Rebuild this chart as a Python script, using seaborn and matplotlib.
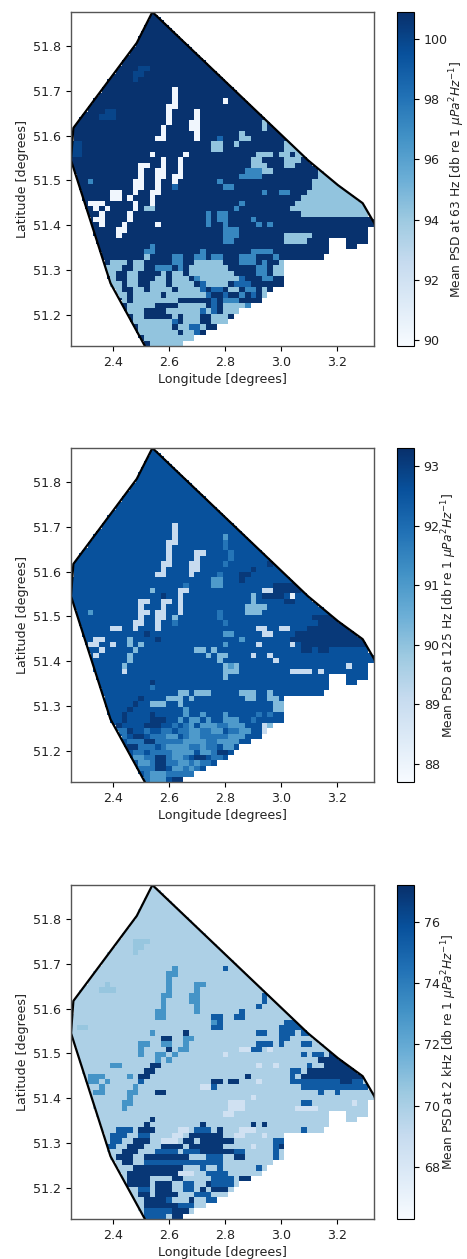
import numpy as np
import pandas as pd
import matplotlib
matplotlib.use("Agg")
import matplotlib.pyplot as plt
from matplotlib.path import Path
import seaborn as sns

LON_MIN, LON_MAX = 2.2485, 3.3336
LAT_MIN, LAT_MAX = 51.13, 51.876
lon_ticks = [2.4, 2.6, 2.8, 3.0, 3.2]
lat_ticks = [51.2, 51.3, 51.4, 51.5, 51.6, 51.7, 51.8]

boundary_lon = [2.54, 3.097, 3.205, 3.293, 3.335, 3.337]
boundary_lat = [51.876, 51.545, 51.489, 51.449, 51.404, 51.40]
west_lon = [2.54, 2.484, 2.257, 2.2485, 2.39, 2.513]
west_lat = [51.876, 51.807, 51.617, 51.545, 51.27, 51.13]

# rows of coverage from row 40 southward (earlier rows are fully covered)
coverage_south = [
    "#" * 53, "#" * 53,
    "#" * 46 + "..." + "####",
    "#" * 46 + "..." + "##",
    "#" * 46, "#" * 45,
    "#" * 38, "#" * 38, "#" * 38, "#" * 38, "#" * 38,
    "#" * 36, "#" * 35, "#" * 34, "#" * 32, "#" * 30,
    "#" * 29, "#" * 28, "#" * 26, "#" * 24, "#" * 22, "#" * 20,
]

# a row ending in ">" continues its last level to the east edge; other rows end in background
values_63 = {"#": 100.8, "o": 100.0, "n": 98.6, "m": 97.2, "l": 94.3, "w": 90.2}
rows_63 = ["#"] * 10 + [
    "############oo#",
    "###########oo#",
    "###########o#",
    "#",
    "##################w#",
    "##################w#",
    "##################w########w#",
    "#################ww#",
    "######oo#########w####w#",
    "#####ooo#########w####w#",
    "#################w###ww###########l#",
    "################w####ww###########l#",
    "################w#####w#######l#",
    "###############ww#####w###n###ll#",
    "oo#######################ll##l########ll#",
    "oo#######################ll###########lll#",
    "oo############w#####w############lll#ll#lll#",
    "################w##w############ll####lll#",
    "############ww##w##w############lll###ll#",
    "############w##ww##w###########mmmll########l>",
    "############w##ww#ww##########mmmm##########l>",
    "###m#######ww##w##w#######m################l>",
    "###########ww##w##n########mm##############l>",
    "#######ww##w##ww##################m##mm###l>",
    "#######ww#w###w##########################l>",
    "###www#####w##w###############m#########l>",
    "####w#w####w#ll##############m#########l>",
    "#####w####w#############m#mm#############l>",
    "####ww####w#############m#mm####m#####",
    "#####w###w#####w########m##m#####m#m#",
    "########ww#################mmm#",
    "########w##################mmm########lllll#",
    "###########################mm#########llll#",
    "##############m#",
    "#############mm########m########mmmm#",
    "#############l####mm##mm#mm###mmm###m#",
    "#######lll#ll#####mm##lllll###mmm#m##l",
    "######lll##ll##mmm#m#lllllll#####mm#ll",
    "######ll##ll####l#ll#llllllll####mm#ll",
    "#######l##ll###ll#lll#mllllllln###mm##ll",
    "#######ll#ll##lll#llll#nllll#nnn#####",
    "#######ll##ll#llll#lllln#nn#ll#mm#l",
    "########ll#lllll#llllllln##n##m#n#lll",
    "#########l#llllllll######n#mmm##",
    "##########lllll####lllll#n#llllm##",
    "##########lll####llllllnln#lllmm",
    "###########ll#####l#lll##lll##",
    "###########llllllln#lll##lll",
    "############llllll#llnnl##",
    "############lllllll#lln#ll",
    "#############lllllllll#n",
    "##############lllllll>",
]

values_125 = {"#": 92.6, "e": 93.1, "d": 91.8, "c": 91.0, "b": 90.2, "a": 89.1, "w": 88.2}
rows_125 = ["#"] * 14 + [
    "##################a#",
    "##################a#",
    "##################a########c#",
    "#################aa########d#",
    "#################a#########d#",
    "#################a####aa####d#",
    "#################a####a#####d#",
    "################aa###aa####d#######e#",
    "################a####aa#########e#",
    "###############aa####a####d###ee#",
    "#########################cc###e#",
    "####################d####cc#########eeeee#",
    "##############b####aa#############aaeeeee#",
    "################e##a############b#eeee#w#",
    "############aa##aa#a############b#####ee#",
    "############a###a##a###########bbbb#",
    "###c########aa#aa##a######d####bbb",
    "############a##aa#b#######d################eee>",
    "###########aa##a##d########d################eee>",
    "#######aa##a###a#################aa##aa###e>",
    "#############e#############cc#####aa####e>",
    "####aa####b####e##############c########e>",
    "###aa##a##b#b##############c#####a#####a#e>",
    "#####a#####b##########bb#b###############ee#ee",
    "####a#####b#############b#bb####a##a####",
    "##########b###############b#########a#",
    "#########b#################bcb###################a#",
    "#########a#################bbb#########aaaa#a#",
    "###########################b",
    "##############e",
    "##############d#################",
    "###################bb#bbb#####bbb##b#",
    "############e####bbb#b#########bb##bb#",
    "###########e##bbb##b################bb#",
    "##########e#########c###############bb#",
    "#########e####e#####c##c###c#####d#d",
    "#########e####eee##c#cc#c##ccc##d",
    "########e####eee##d#dc#cccddccc###ab",
    "########dde##d##dd#ddccddcc#ddcc##a",
    "#########d#ee#dddcc#dccdddddccc",
    "##########dddeedddddccccddcccc",
    "##########eeddd#dccccddcdd#cc",
    "###########dd#ddddcccc#ccdee",
    "###########ccddeedccd#ee#dd",
    "############ccdeeddccdcdd",
    "############dddee#ccdcd#",
    "#############dcccdddddeed",
    "#############dccc#eeeeddd",
    "##############ddddeeee#",
]

values_2k = {"#": 69.9, "b": 70.6, "a": 68.5, "c": 73.0, "d": 75.4, "e": 76.9}
rows_2k = ["#"] * 10 + [
    "###########bbb#",
    "###########bb#",
    "###########b#",
    "#",
    "#",
    "##################c########d#",
    "#################cc#",
    "#################c#",
    "######b##########c####cc#",
    "#####bbb#########c####c#",
    "################cc###cc###########d#",
    "################c####cc###########d#",
    "################c#####c##########d#",
    "###############cc#####c#######d#",
    "###############cc########dd##dd#",
    "#########################cd###########ddd#",
    "#bb######################dd##########ddddd#",
    "##############c#####e############dd##ddd#dd#",
    "################ee##cc###############dd#",
    "############cc##cc##c############ddd#d###dd#",
    "############c####e#cc#########aadd#a##########ee",
    "############c##cc#c########a#############d#dd#eeee#",
    "###############c#c##########################eeeee#",
    "#######cc#####ee#################a##a#####d##eeeee#",
    "#############ee########################dd#eeeeeeeeee",
    "###ccc####c#ee#################e#######d#eeeeeeeeeeeee",
    "###cc#c#####d############ee#ee###a#####dddddddddeedd",
    "#####c#####c###########aad###############dddddddddddd",
    "####cc####cc###ee###########################d##d#",
    "##########c#####################a#",
    "#########cc#################aaa##########dd#######a#",
    "#########c##################aaa#########aaaa#",
    "###########################aa",
    "##############e",
    "#############e#########e########e#e#",
    "########ddd#eee####aa#ddd#e###aaa########d####d#",
    "#######ddd##dd####aa#eeeeee##aa###a###e",
    "#######dd##eee##aaa#ee#eeeeee#######dde",
    "######dd##eee###eeee#eeeeee#####a###de",
    "#########eee###dddd#dddeeeeeedd#####d#",
    "########eee##eeeeeeee###ddd##ee#####d",
    "#########ee##dddddddddddddd",
    "###########eeeeeeeee###d##d######d",
    "##########eeeeeeeeeaaa##dddd",
    "##########eeee####ee#####dddd#ee",
    "##########eeee#eee##dd##edddd",
    "############dd#eee##dd#e#eee#e",
    "############ee#eeee###ddd####dd",
    "#############eeeed###e##ddd",
    "#############eeeeeeddd##e",
    "#############dddddeee#ee",
    "#############dddd#eee#e",
]

titles = ["Mean PSD at 63 Hz", "Mean PSD at 125 Hz", "Mean PSD at 2 kHz"]
limits = [(89.8, 100.9), (87.7, 93.3), (66.3, 77.2)]
cbar_ticks = [[90, 92, 94, 96, 98, 100], [88, 89, 90, 91, 92, 93], [68, 70, 72, 74, 76]]
axes_top_px = [12, 448, 885]
all_rows = [rows_63, rows_125, rows_2k]
all_values = [values_63, values_125, values_2k]

N_COL, N_ROW, FACTOR = 54, 62, 2


def to_grid(rows, values):
    grid = np.full((N_ROW, N_COL), values["#"])
    for j, row in enumerate(rows[:N_ROW]):
        if row.endswith(">"):
            row = row[:-1].ljust(N_COL, row[-2])
        else:
            row = row.ljust(N_COL, "#")
        grid[j] = [values[c] for c in row[:N_COL]]
    for j in range(40, N_ROW):
        cover = coverage_south[j - 40].ljust(N_COL, ".")
        grid[j] = [v if k == "#" else np.nan for v, k in zip(grid[j], cover)]
    return np.repeat(np.repeat(grid, FACTOR, axis=0), FACTOR, axis=1)


nx, ny = N_COL * FACTOR, N_ROW * FACTOR
lon_centre = LON_MIN + (np.arange(nx) + 0.5) * (LON_MAX - LON_MIN) / nx
lat_centre = LAT_MAX - (np.arange(ny) + 0.5) * (LAT_MAX - LAT_MIN) / ny
poly_lon = boundary_lon + [LON_MAX + 0.01, LON_MAX + 0.01, west_lon[-1]] + west_lon[::-1][:-1]
poly_lat = boundary_lat + [51.40, LAT_MIN - 0.01, LAT_MIN - 0.01] + west_lat[::-1][:-1]
gx, gy = np.meshgrid(lon_centre, lat_centre)
inside = Path(np.column_stack([poly_lon, poly_lat])).contains_points(
    np.column_stack([gx.ravel(), gy.ravel()])).reshape(gx.shape)


def xpos(lon):
    return (np.asarray(lon) - LON_MIN) / (LON_MAX - LON_MIN) * nx


def ypos(lat):
    return (LAT_MAX - np.asarray(lat)) / (LAT_MAX - LAT_MIN) * ny


sns.set_style("ticks")
W, H = 467, 1259
fig = plt.figure(figsize=(W / 100, H / 100), dpi=100)
FS = 9.1
for k in range(3):
    top = axes_top_px[k]
    ax = fig.add_axes([71 / W, 1 - (top + 334) / H, 303 / W, 334 / H])
    cax = fig.add_axes([397 / W, 1 - (top + 334) / H, 17 / W, 334 / H])
    df = pd.DataFrame(to_grid(all_rows[k], all_values[k]), index=lat_centre, columns=lon_centre)
    vmin, vmax = limits[k]
    sns.heatmap(df, mask=~inside | df.isna().values, cmap="Blues", vmin=vmin, vmax=vmax, ax=ax,
                cbar_ax=cax, xticklabels=False, yticklabels=False,
                cbar_kws={"label": titles[k] + r" [db re 1 $\mu Pa^2 Hz^{-1}$]"})
    ax.plot(xpos(boundary_lon), ypos(boundary_lat), color="black", lw=1.6)
    ax.plot(xpos(west_lon), ypos(west_lat), color="black", lw=1.6)
    ax.set_xlim(0, nx)
    ax.set_ylim(ny, 0)
    ax.set_xticks(xpos(lon_ticks))
    ax.set_xticklabels([f"{v:.1f}" for v in lon_ticks], fontsize=FS, rotation=0, color="#222222")
    ax.set_yticks(ypos(lat_ticks))
    ax.set_yticklabels([f"{v:.1f}" for v in lat_ticks], fontsize=FS, rotation=0, color="#222222")
    ax.tick_params(length=3.5, width=0.8, color="black", left=True, bottom=True)
    ax.set_xlabel("Longitude [degrees]", fontsize=FS, labelpad=3, color="#222222")
    ax.set_ylabel("Latitude [degrees]", fontsize=FS, labelpad=3, color="#222222")
    for name, s in ax.spines.items():
        s.set_visible(True)
        s.set_linewidth(1.0)
        s.set_color("#555555")
    cb = ax.collections[0].colorbar
    cb.set_ticks(cbar_ticks[k])
    cb.ax.tick_params(labelsize=FS, length=3.5, width=0.8, color="black", labelcolor="#222222")
    cb.outline.set_visible(True)
    cb.outline.set_linewidth(0.8)
    cb.outline.set_edgecolor("black")
    cb.set_label(titles[k] + r" [db re 1 $\mu Pa^2 Hz^{-1}$]", fontsize=8.8, labelpad=0, color="#222222")

fig.savefig("out.png", dpi=100)
